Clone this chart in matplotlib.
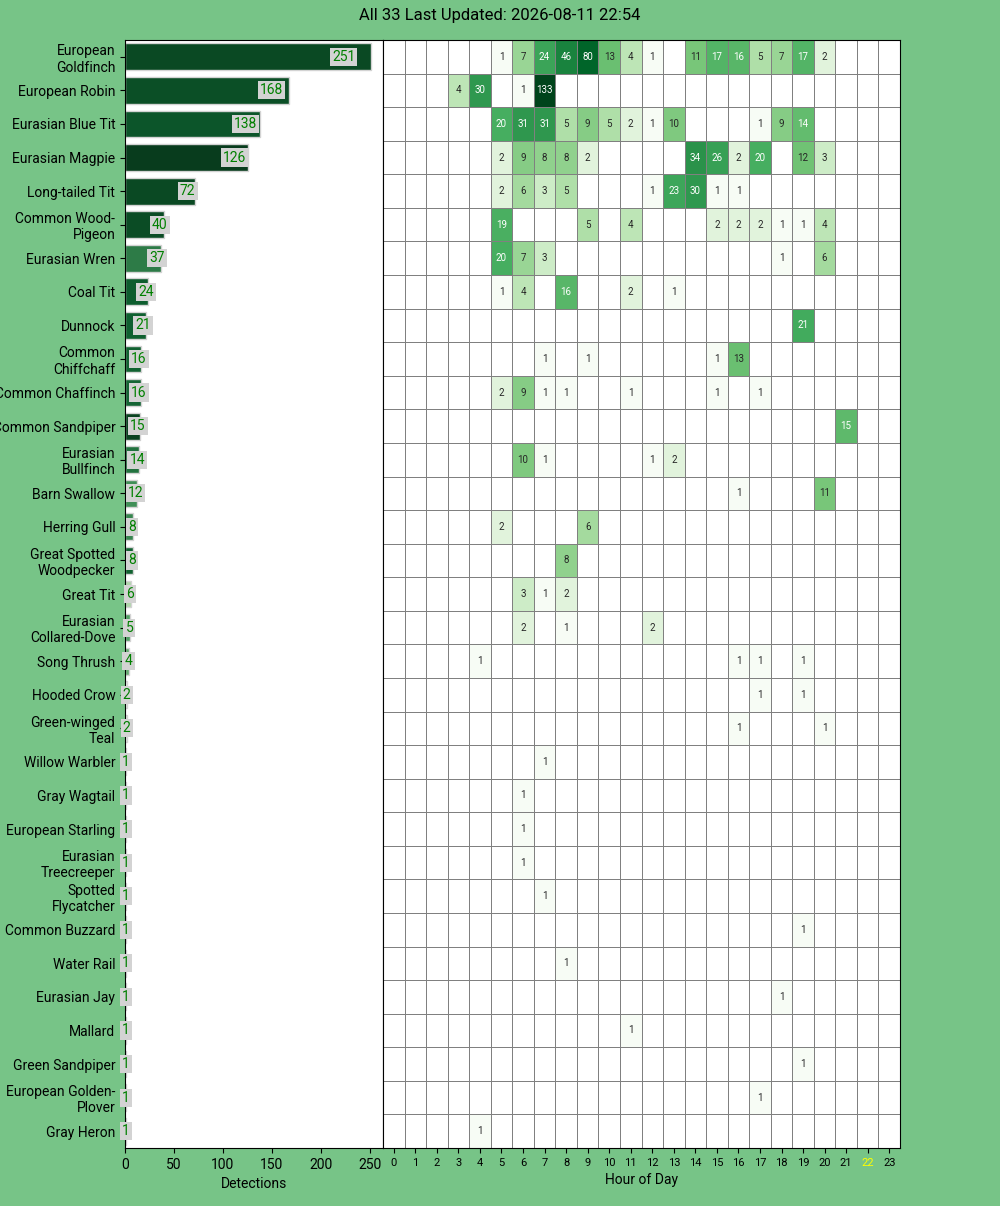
import numpy as np
import pandas as pd
import matplotlib
matplotlib.use("Agg")
import matplotlib.pyplot as plt
import seaborn as sns
from matplotlib.colors import LogNorm

plt.rcParams['font.family'] = ['Roboto', 'DejaVu Sans']

title = "All 33 Last Updated: 2026-08-11 22:54"
current_hour = 22

species = [
    "European\nGoldfinch", "European Robin", "Eurasian Blue Tit", "Eurasian Magpie",
    "Long-tailed Tit", "Common Wood-\nPigeon", "Eurasian Wren", "Coal Tit", "Dunnock",
    "Common\nChiffchaff", "Common Chaffinch", "Common Sandpiper", "Eurasian\nBullfinch",
    "Barn Swallow", "Herring Gull", "Great Spotted\nWoodpecker", "Great Tit",
    "Eurasian\nCollared-Dove", "Song Thrush", "Hooded Crow", "Green-winged\nTeal",
    "Willow Warbler", "Gray Wagtail", "European Starling", "Eurasian\nTreecreeper",
    "Spotted\nFlycatcher", "Common Buzzard", "Water Rail", "Eurasian Jay", "Mallard",
    "Green Sandpiper", "European Golden-\nPlover", "Gray Heron",
]
detections = [251, 168, 138, 126, 72, 40, 37, 24, 21, 16, 16, 15, 14, 12, 8, 8, 6,
              5, 4, 2, 2, 1, 1, 1, 1, 1, 1, 1, 1, 1, 1, 1, 1]

# relative max confidence per species (drives bar shade)
max_confidence = [0.95, 0.93, 0.91, 1.0, 0.95, 0.94, 0.76, 0.88, 0.87, 0.86, 0.85,
                  0.97, 0.80, 0.68, 0.72, 0.86, 0.35, 0.62, 0.57, 0.06, 0.08,
                  0.3, 0.3, 0.3, 0.3, 0.3, 0.3, 0.3, 0.3, 0.3, 0.3, 0.3, 0.3]

hours = list(range(24))

# detections per hour, {hour: count}
hourly = [
    {5: 1, 6: 7, 7: 24, 8: 46, 9: 80, 10: 13, 11: 4, 12: 1, 14: 11, 15: 17, 16: 16, 17: 5, 18: 7, 19: 17, 20: 2},
    {3: 4, 4: 30, 6: 1, 7: 133},
    {5: 20, 6: 31, 7: 31, 8: 5, 9: 9, 10: 5, 11: 2, 12: 1, 13: 10, 17: 1, 18: 9, 19: 14},
    {5: 2, 6: 9, 7: 8, 8: 8, 9: 2, 14: 34, 15: 26, 16: 2, 17: 20, 19: 12, 20: 3},
    {5: 2, 6: 6, 7: 3, 8: 5, 12: 1, 13: 23, 14: 30, 15: 1, 16: 1},
    {5: 19, 9: 5, 11: 4, 15: 2, 16: 2, 17: 2, 18: 1, 19: 1, 20: 4},
    {5: 20, 6: 7, 7: 3, 18: 1, 20: 6},
    {5: 1, 6: 4, 8: 16, 11: 2, 13: 1},
    {19: 21},
    {7: 1, 9: 1, 15: 1, 16: 13},
    {5: 2, 6: 9, 7: 1, 8: 1, 11: 1, 15: 1, 17: 1},
    {21: 15},
    {6: 10, 7: 1, 12: 1, 13: 2},
    {16: 1, 20: 11},
    {5: 2, 9: 6},
    {8: 8},
    {6: 3, 7: 1, 8: 2},
    {6: 2, 8: 1, 12: 2},
    {4: 1, 16: 1, 17: 1, 19: 1},
    {17: 1, 19: 1},
    {16: 1, 20: 1},
    {7: 1},
    {6: 1},
    {6: 1},
    {6: 1},
    {7: 1},
    {19: 1},
    {8: 1},
    {18: 1},
    {11: 1},
    {19: 1},
    {17: 1},
    {4: 1},
]

grid = pd.DataFrame([[row.get(h, np.nan) for h in hours] for row in hourly],
                    index=species, columns=hours)

fig = plt.figure(figsize=(10, 12.06), dpi=100, facecolor='#77C487')
fig.suptitle(title, fontsize=12, y=0.993)

# left: detections per species
ax1 = fig.add_axes([0.125, 0.0481, 0.258, 0.9187])
ypos = np.arange(len(species))
colors = [sns.desaturate(plt.cm.Greens(c), 0.75) for c in max_confidence]
ax1.barh(ypos, detections, height=0.8, color=colors, edgecolor='lightgrey')
ax1.set_ylim(len(species) - 0.5, -0.5)
ax1.set_yticks(ypos)
ax1.set_yticklabels(species, fontsize=10)
ax1.set_xticks([0, 50, 100, 150, 200, 250])
ax1.tick_params(axis='x', labelsize=10)
ax1.set_xlabel("Detections", fontsize=10)
for y, n in zip(ypos, detections):
    ax1.text(n * 0.89, y, str(n), ha='center', va='center', fontsize=10, color='g',
             bbox=dict(facecolor='lightgrey', edgecolor='none', pad=1.5))

# right: hourly heatmap
ax2 = fig.add_axes([0.383, 0.0481, 0.517, 0.9187])
ax2.set_facecolor('white')
sns.heatmap(grid, ax=ax2, cmap='Greens', norm=LogNorm(vmin=1, vmax=grid.max().max()),
            annot=True, fmt='g', annot_kws={'fontsize': 7}, linewidths=0.5,
            linecolor='grey', cbar=False, yticklabels=False)
ax2.set_ylim(len(species), 0)
for s in ax2.spines.values():
    s.set_visible(True)
    s.set_color('black')
ax2.set_xticklabels([str(h) for h in hours], rotation=0, fontsize=8)
ax2.get_xticklabels()[current_hour].set_color('yellow')
ax2.set_xlabel("Hour of Day", fontsize=10)

fig.savefig("out.png", facecolor=fig.get_facecolor())
